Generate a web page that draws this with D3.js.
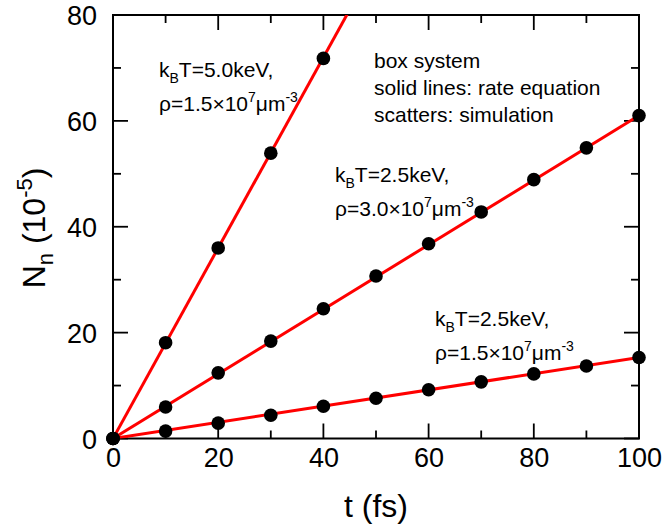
<!DOCTYPE html>
<html><head><meta charset="utf-8">
<script src="https://cdn.jsdelivr.net/npm/d3@7"></script>
<style>body{margin:0;background:#fff}svg{display:block}text{font-family:"Liberation Sans",Arial,sans-serif;fill:#000}</style>
</head><body><svg id="c" width="663" height="529"></svg>
<script>
const times = [0,10,20,30,40,50,60,70,80,90,100];
const seriesA = [0,18.1,36.0,53.9,71.8];               // 5.0 keV, 1.5e7
const seriesB = [0,5.95,12.4,18.4,24.5,30.7,36.8,42.8,48.9,54.9,61.0]; // 2.5 keV, 3.0e7
const seriesC = [0,1.4,2.9,4.4,6.1,7.6,9.2,10.7,12.2,13.7,15.3];     // 2.5 keV, 1.5e7
const slopes = [1.8,0.61,0.153];
const xTicks = [0,20,40,60,80,100];
const yTicks = [0,20,40,60,80];

const svg = d3.select("#c");
const L=113,R=639,T=15,B=438.5;
const x = d3.scaleLinear().domain([0,100]).range([L,R]);
const y = d3.scaleLinear().domain([0,80]).range([B,T]);

const defs = svg.append("defs");
defs.append("clipPath").attr("id","clip").append("rect").attr("x",L).attr("y",T).attr("width",R-L).attr("height",B-T);

// axes
const minorX = d3.range(0,101,10), minorY = d3.range(0,81,10);
function tickLen(v){return v%20===0?15:8;}
const g = svg.append("g");
g.append("g").attr("transform",`translate(0,${B})`).call(d3.axisBottom(x).tickValues(minorX).tickSize(0).tickFormat(""))
 .call(s=>{s.select(".domain").remove();});
// custom inward ticks on all four sides
const tk = svg.append("g").attr("stroke","#000").attr("stroke-width",1.8);
minorX.forEach(v=>{
  tk.append("line").attr("x1",x(v)).attr("x2",x(v)).attr("y1",B).attr("y2",B-tickLen(v));
  tk.append("line").attr("x1",x(v)).attr("x2",x(v)).attr("y1",T).attr("y2",T+tickLen(v));
});
minorY.forEach(v=>{
  tk.append("line").attr("y1",y(v)).attr("y2",y(v)).attr("x1",L).attr("x2",L+tickLen(v));
  tk.append("line").attr("y1",y(v)).attr("y2",y(v)).attr("x1",R).attr("x2",R-tickLen(v));
});
svg.append("rect").attr("x",L).attr("y",T).attr("width",R-L).attr("height",B-T)
  .attr("fill","none").attr("stroke","#000").attr("stroke-width",2);

// tick labels via d3 axes (no lines)
const ax = svg.append("g").attr("transform",`translate(0,${B})`)
  .call(d3.axisBottom(x).tickValues(xTicks).tickSize(0).tickPadding(28));
ax.select(".domain").remove();
ax.selectAll("text").attr("font-size",27).attr("font-family","Liberation Sans, Arial").attr("dy",0);
const ay = svg.append("g").attr("transform",`translate(${L},0)`)
  .call(d3.axisLeft(y).tickValues(yTicks).tickSize(0).tickPadding(16));
ay.select(".domain").remove();
ay.selectAll("text").attr("font-size",27).attr("font-family","Liberation Sans, Arial").attr("dy","0.36em");

// lines
const lines = svg.append("g").attr("clip-path","url(#clip)");
slopes.forEach(k=>{
  lines.append("path").datum([0,100]).attr("fill","none").attr("stroke","#ff0000").attr("stroke-width",3)
   .attr("d",d3.line().x(d=>x(d)).y(d=>y(k*d)));
});
// points
const pts = svg.append("g");
[seriesA,seriesB,seriesC].forEach(s=>{
  pts.selectAll(null).data(s).enter().append("circle")
    .attr("cx",(d,i)=>x(times[i])).attr("cy",d=>y(d)).attr("r",6.8).attr("fill","#000");
});

// axis titles
svg.append("text").attr("x",376).attr("y",517).attr("text-anchor","middle").attr("font-size",32).text("t (fs)");
const yt = svg.append("text").attr("transform","translate(45,228) rotate(-90)").attr("text-anchor","middle").attr("font-size",32);
yt.append("tspan").text("N");
yt.append("tspan").attr("font-size",22).attr("dy",8).text("n");
yt.append("tspan").attr("dy",-8).text(" (10");
yt.append("tspan").attr("font-size",22).attr("dy",-13).text("-5");
yt.append("tspan").attr("dy",13).text(")");

// annotations
function label(xp,yp,T,rho){
  const a = svg.append("text").attr("x",xp).attr("y",yp).attr("font-size",21);
  a.append("tspan").text("k");
  a.append("tspan").attr("font-size",14).attr("dy",6).text("B");
  a.append("tspan").attr("dy",-6).text("T="+T+"keV,");
  const b = svg.append("text").attr("x",xp).attr("y",yp+34).attr("font-size",21);
  b.append("tspan").text("ρ="+rho+"×10");
  b.append("tspan").attr("font-size",14).attr("dy",-9).text("7");
  b.append("tspan").attr("dy",9).text("μm");
  b.append("tspan").attr("font-size",14).attr("dy",-9).text("-3");
}
label(159,77,"5.0","1.5");
label(335,182,"2.5","3.0");
label(435,326,"2.5","1.5");
["box system","solid lines: rate equation","scatters: simulation"].forEach((t,i)=>{
  svg.append("text").attr("x",374).attr("y",68+27*i).attr("font-size",21).text(t);
});
</script></body></html>
